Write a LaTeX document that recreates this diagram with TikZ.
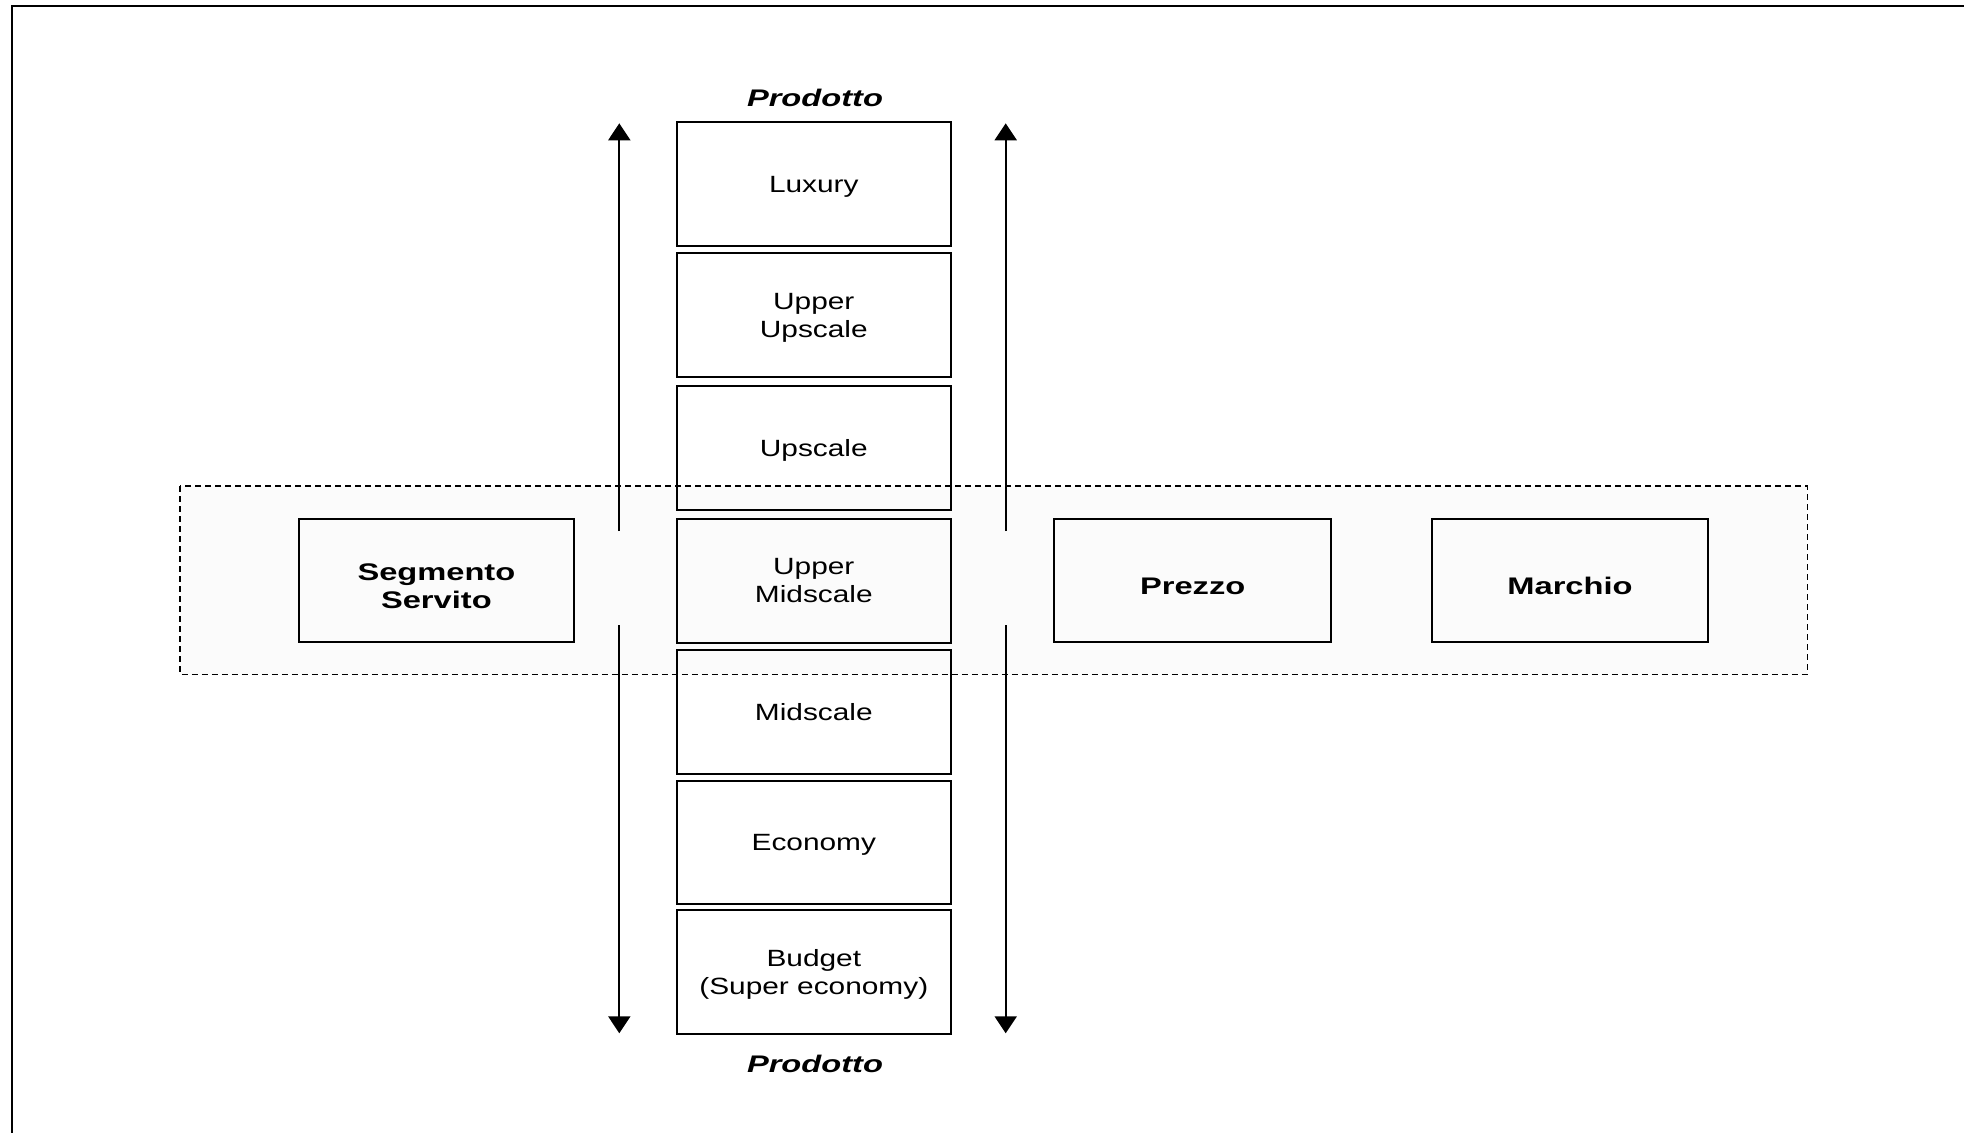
\documentclass[tikz,border=0pt]{standalone}
\usepackage{fontspec}
\setmainfont{Liberation Sans}
\usetikzlibrary{arrows.meta,positioning}
\definecolor{bandfill}{HTML}{FBFBFB}
\begin{document}
\begin{tikzpicture}[x=1pt,y=-1pt,
	levelbox/.style={draw, line width=2pt, minimum width=273.7pt, minimum height=123.8pt, inner sep=0pt, align=center, text depth=0pt, font=\fontsize{23.5}{28}\selectfont\addfontfeatures{FakeStretch=1.27}},
	keybox/.style={levelbox, minimum width=276.5pt, minimum height=123.3pt, text height=27pt, font=\fontsize{24}{28}\selectfont\bfseries\addfontfeatures{FakeStretch=1.36}},
	axislabel/.style={font=\fontsize{24}{28}\selectfont\bfseries\itshape\addfontfeatures{FakeStretch=1.36}},
	scalearrow/.style={line width=2pt, -{Triangle[width=22pt,length=17pt]}}]
	\useasboundingbox (0,0) rectangle (1964,1132);
	\draw [line width=2.5pt] (12,1140) -- (12,6) -- (1970,6);
	\path [draw, dash pattern=on 6pt off 4pt, line width=1.6pt, fill=bandfill] (180,486) rectangle (1807.3,674.3);
	\foreach \y/\name/\txt in {184.1/luxury/Luxury, 315/uupscale/Upper\\Upscale, 447.8/upscale/Upscale, 580.6/umidscale/Upper\\Midscale, 712/midscale/Midscale, 842.4/economy/Economy, 972.3/budget/Budget\\(Super economy)}
		\node [levelbox] (\name) at (813.8,\y) {\txt};
	\node [keybox, minimum width=274.7pt, text height=55pt] (segmento) at (436.4,580.7) {Segmento\\Servito};
	\node [keybox] (prezzo) at (1192.7,580.7) {Prezzo};
	\node [keybox] (marchio) at (1570,580.7) {Marchio};
	\node [axislabel] (prodtop) at (815,98) {Prodotto};
	\node [axislabel] (prodbot) at (815,1064) {Prodotto};
	\coordinate (lup0) at (619.3,531);   \coordinate (lup1) at (619.3,123.3);
	\coordinate (ldn0) at (619.3,625);   \coordinate (ldn1) at (619.3,1033.3);
	\coordinate (rup0) at (1005.7,531);  \coordinate (rup1) at (1005.7,123.3);
	\coordinate (rdn0) at (1005.7,625);  \coordinate (rdn1) at (1005.7,1033.3);
	\draw [scalearrow] (lup0) -- (lup1);
	\draw [scalearrow] (ldn0) -- (ldn1);
	\draw [scalearrow] (rup0) -- (rup1);
	\draw [scalearrow] (rdn0) -- (rdn1);
\end{tikzpicture}
\end{document}
